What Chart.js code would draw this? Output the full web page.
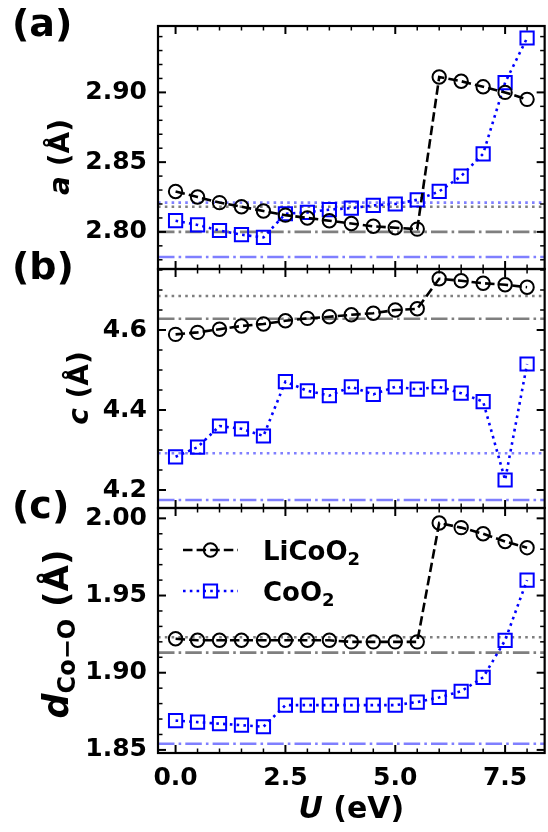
<!DOCTYPE html>
<html>
<head>
<meta charset="utf-8">
<script src="https://cdn.jsdelivr.net/npm/chart.js@4/dist/chart.umd.min.js"></script>
<style>
  html, body { margin: 0; padding: 0; width: 548px; height: 832px; overflow: hidden; background: #ffffff; }
  canvas { position: absolute; left: 0; top: 0; }
</style>
</head>
<body>
<canvas id="panelA" width="556" height="832"></canvas>
<canvas id="panelB" width="556" height="832"></canvas>
<canvas id="panelC" width="556" height="832"></canvas>
<script>
// Hubbard U values (eV)
const U_VALUES = [0, 0.5, 1, 1.5, 2, 2.5, 3, 3.5, 4, 4.5, 5, 5.5, 6, 6.5, 7, 7.5, 8];

// Lattice parameter a (Å)
const A_LICOO2 = [2.829, 2.825, 2.821, 2.818, 2.815, 2.812, 2.810, 2.808, 2.806, 2.804, 2.803, 2.802, 2.911, 2.908, 2.904, 2.900, 2.895];
const A_COO2   = [2.808, 2.805, 2.801, 2.798, 2.796, 2.813, 2.814, 2.816, 2.817, 2.819, 2.820, 2.823, 2.829, 2.840, 2.856, 2.907, 2.939];
// reference values: [dotted, dash-dot]
const A_LICOO2_REF = [2.818, 2.800];
const A_COO2_REF   = [2.821, 2.782];

// Lattice parameter c (Å)
const C_LICOO2 = [4.589, 4.594, 4.602, 4.610, 4.615, 4.623, 4.629, 4.633, 4.638, 4.642, 4.650, 4.653, 4.728, 4.723, 4.717, 4.713, 4.707];
const C_COO2   = [4.283, 4.307, 4.360, 4.353, 4.335, 4.471, 4.448, 4.436, 4.458, 4.439, 4.458, 4.452, 4.458, 4.442, 4.421, 4.225, 4.515];
const C_LICOO2_REF = [4.685, 4.628];
const C_COO2_REF   = [4.292, 4.175];

// Co–O bond length (Å)
const D_LICOO2 = [1.922, 1.921, 1.921, 1.921, 1.921, 1.921, 1.921, 1.921, 1.920, 1.920, 1.920, 1.920, 1.997, 1.994, 1.990, 1.985, 1.981];
const D_COO2   = [1.869, 1.868, 1.867, 1.866, 1.865, 1.879, 1.879, 1.879, 1.879, 1.879, 1.879, 1.881, 1.884, 1.888, 1.897, 1.921, 1.960];
const D_LICOO2_REF = [1.923, 1.913];
const D_COO2_REF   = [null, 1.854];

// Tick labels
const X_TICKS = [0, 2.5, 5, 7.5];
const A_TICKS = [2.80, 2.85, 2.90];
const C_TICKS = [4.2, 4.4, 4.6];
const D_TICKS = [1.85, 1.90, 1.95, 2.00];

const SERIES_NAMES = ['LiCoO', 'CoO'];

// ---- layout / style ----
const X_MIN = -0.4, X_MAX = 8.4;
const PLOT_LEFT = 158;
const CANVAS_W = 556, CANVAS_H = 832;
const RIGHT_PAD = 4.4;
const FAMILY = '"DejaVu Sans"';
const font = (size, italic) => `${italic ? 'italic ' : ''}bold ${size}px ${FAMILY}`;

const BLACK = '#000000';
const BLUE = '#0000ff';
const GREY_REF = 'rgba(0,0,0,0.5)';
const BLUE_REF = 'rgba(0,0,255,0.5)';
const LW = 2.6;
const DASHED = [9.5, 4.1];
const DOTTED = [2.6, 4.2];
const DASHDOT = [16.5, 4.1, 2.6, 4.1];

Chart.defaults.font.family = FAMILY;

const PANELS = [
  { id: 'panelA', top: 25, bottom: 269, yMin: 2.7734, yMax: 2.9476, ticks: A_TICKS, minor: 0.01, decimals: 2,
    li: A_LICOO2, co: A_COO2, liRef: A_LICOO2_REF, coRef: A_COO2_REF, tag: '(a)',
    title: [{ t: 'a', f: font(28, true) }, { t: ' (Å)', f: font(28) }], titleX: 69, titleY: 157 },
  { id: 'panelB', top: 269, bottom: 508, yMin: 4.155, yMax: 4.7525, ticks: C_TICKS, minor: 0.05, decimals: 1,
    li: C_LICOO2, co: C_COO2, liRef: C_LICOO2_REF, coRef: C_COO2_REF, tag: '(b)',
    title: [{ t: 'c', f: font(28, true) }, { t: ' (Å)', f: font(28) }], titleX: 88, titleY: 388 },
  { id: 'panelC', top: 508, bottom: 753, yMin: 1.848, yMax: 2.0067, ticks: D_TICKS, minor: 0.01, decimals: 2,
    li: D_LICOO2, co: D_COO2, liRef: D_LICOO2_REF, coRef: D_COO2_REF, tag: '(c)',
    title: [{ t: 'd', f: font(35, true) },
            { t: 'Co−O', f: font(24), dy: 7 },
            { t: ' (Å)', f: font(34) }], titleX: 68, titleY: 634,
    xAxis: true, legend: true }
];

// Draws a sequence of text runs centred on (cx, cy); baseline passes through the anchor.
function drawRuns(ctx, runs, cx, cy, rotate, align) {
  ctx.save();
  ctx.translate(cx, cy);
  if (rotate) ctx.rotate(-Math.PI / 2);
  ctx.fillStyle = BLACK;
  ctx.textBaseline = 'alphabetic';
  ctx.textAlign = 'left';
  let total = 0;
  const widths = runs.map(r => {
    ctx.font = r.f;
    const w = ctx.measureText(r.t).width;
    total += w;
    return w;
  });
  let x = align === 'left' ? 0 : -total / 2;
  runs.forEach((r, i) => { ctx.font = r.f; ctx.fillText(r.t, x, r.dy || 0); x += widths[i]; });
  ctx.restore();
}

function drawMarker(ctx, style, x, y, color) {
  ctx.save();
  ctx.setLineDash([]);
  ctx.strokeStyle = color;
  ctx.lineWidth = 2;
  ctx.beginPath();
  if (style === 'circle') ctx.arc(x, y, 6.7, 0, Math.PI * 2);
  else ctx.rect(x - 6.6, y - 6.6, 13.2, 13.2);
  ctx.stroke();
  ctx.restore();
}

// Inward ticks on all four sides plus the frame, panel tag, titles and legend.
const decorations = {
  id: 'decorations',
  afterDatasetsDraw(chart, args, opts) {
    const p = opts.panel;
    const { ctx, chartArea: ca, scales: { x, y } } = chart;
    ctx.save();
    ctx.strokeStyle = BLACK;
    ctx.setLineDash([]);
    const seg = (x0, y0, x1, y1, w) => { ctx.lineWidth = w; ctx.beginPath(); ctx.moveTo(x0, y0); ctx.lineTo(x1, y1); ctx.stroke(); };
    const near = (a, b) => Math.abs(a - b) < 1e-6;

    for (let i = Math.ceil(X_MIN / 0.5); i <= Math.floor(X_MAX / 0.5); i++) {
      const v = i * 0.5;
      const px = x.getPixelForValue(v);
      const major = X_TICKS.some(t => near(t, v));
      const L = major ? 8 : 4.5, w = major ? 2 : 1.5;
      seg(px, ca.top, px, ca.top + L, w);
      seg(px, ca.bottom, px, ca.bottom - L, w);
    }
    for (let i = Math.ceil(p.yMin / p.minor - 1e-9); i <= Math.floor(p.yMax / p.minor + 1e-9); i++) {
      const v = i * p.minor;
      const py = y.getPixelForValue(v);
      const major = p.ticks.some(t => near(t, v));
      const L = major ? 8 : 4.5, w = major ? 2 : 1.5;
      seg(ca.left, py, ca.left + L, py, w);
      seg(ca.right, py, ca.right - L, py, w);
    }
    ctx.lineWidth = 2.2;
    ctx.strokeRect(ca.left, ca.top, ca.right - ca.left, ca.bottom - ca.top);
    ctx.restore();
  },
  afterDraw(chart, args, opts) {
    const p = opts.panel;
    const { ctx, chartArea: ca } = chart;
    // panel tag
    ctx.save();
    ctx.fillStyle = BLACK;
    ctx.font = font(38);
    ctx.textAlign = 'left';
    ctx.textBaseline = 'middle';
    ctx.fillText(p.tag, 12, ca.top);
    ctx.restore();
    // y title
    drawRuns(ctx, p.title, p.titleX, p.titleY, true);
    if (p.xAxis) {
      drawRuns(ctx, [{ t: 'U', f: font(30, true) }, { t: ' (eV)', f: font(30) }], (ca.left + ca.right) / 2, 818, false);
    }
    if (p.legend) {
      const ds = chart.data.datasets;
      const rows = [{ d: ds[0], y: 550, name: SERIES_NAMES[0] }, { d: ds[1], y: 591, name: SERIES_NAMES[1] }];
      rows.forEach(r => {
        ctx.save();
        ctx.strokeStyle = r.d.borderColor;
        ctx.lineWidth = r.d.borderWidth;
        ctx.setLineDash(r.d.borderDash);
        ctx.beginPath();
        ctx.moveTo(183, r.y);
        ctx.lineTo(238, r.y);
        ctx.stroke();
        ctx.restore();
        drawMarker(ctx, r.d.pointStyle, 210.5, r.y, r.d.borderColor);
        drawRuns(ctx, [{ t: r.name, f: font(26) }, { t: '2', f: font(18), dy: 5 }], 263, r.y + 10, false, 'left');
      });
    }
  }
};

function series(values) { return U_VALUES.map((u, i) => ({ x: u, y: values[i] })); }
function refLine(value, color, dash) {
  return {
    data: [{ x: X_MIN, y: value }, { x: X_MAX, y: value }],
    borderColor: color, borderWidth: LW, borderDash: dash, borderCapStyle: 'butt',
    pointRadius: 0, fill: false, tension: 0
  };
}

PANELS.forEach(p => {
  const datasets = [
    { label: 'LiCoO2', data: series(p.li), borderColor: BLACK, borderWidth: LW, borderDash: DASHED, borderCapStyle: 'butt',
      pointStyle: 'circle', pointRadius: 6.7, pointBorderWidth: 2, pointBorderColor: BLACK, pointBackgroundColor: 'rgba(0,0,0,0)', tension: 0, fill: false },
    { label: 'CoO2', data: series(p.co), borderColor: BLUE, borderWidth: LW, borderDash: DOTTED, borderCapStyle: 'butt',
      pointStyle: 'rect', pointRadius: 9.35, pointBorderWidth: 2, pointBorderColor: BLUE, pointBackgroundColor: 'rgba(0,0,0,0)', tension: 0, fill: false }
  ];
  if (p.liRef[0] != null) datasets.push(refLine(p.liRef[0], GREY_REF, DOTTED));
  if (p.liRef[1] != null) datasets.push(refLine(p.liRef[1], GREY_REF, DASHDOT));
  if (p.coRef[0] != null) datasets.push(refLine(p.coRef[0], BLUE_REF, DOTTED));
  if (p.coRef[1] != null) datasets.push(refLine(p.coRef[1], BLUE_REF, DASHDOT));

  const xAxisH = 79;
  new Chart(document.getElementById(p.id), {
    type: 'line',
    data: { datasets },
    options: {
      responsive: false,
      animation: false,
      events: [],
      layout: { padding: { top: p.top, bottom: p.xAxis ? 0 : CANVAS_H - p.bottom, left: 0, right: RIGHT_PAD } },
      plugins: { legend: { display: false }, tooltip: { enabled: false }, decorations: { panel: p } },
      scales: {
        x: {
          type: 'linear', min: X_MIN, max: X_MAX, display: !!p.xAxis,
          grid: { display: false, drawTicks: false }, border: { display: false },
          afterBuildTicks: s => { s.ticks = X_TICKS.map(v => ({ value: v })); },
          afterFit: s => { s.height = p.xAxis ? xAxisH : 0; },
          ticks: { autoSkip: false, maxRotation: 0, padding: 10, color: BLACK, font: { size: 25, weight: 'bold' },
            callback: v => Number(v).toFixed(1) }
        },
        y: {
          type: 'linear', position: 'left', min: p.yMin, max: p.yMax,
          grid: { display: false, drawTicks: false }, border: { display: false },
          afterBuildTicks: s => { s.ticks = p.ticks.map(v => ({ value: v })); },
          afterFit: s => { s.width = PLOT_LEFT; },
          ticks: { autoSkip: false, padding: 11, color: BLACK, font: { size: 25, weight: 'bold' },
            callback: v => Number(v).toFixed(p.decimals) }
        }
      }
    },
    plugins: [decorations]
  });
});
</script>
</body>
</html>
